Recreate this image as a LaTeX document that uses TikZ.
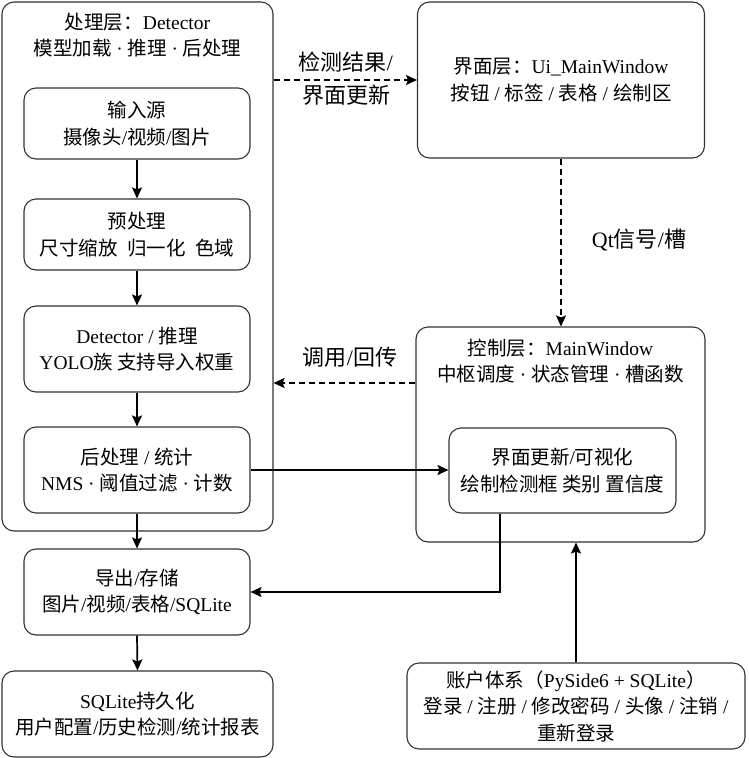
\documentclass[tikz,border=0pt]{standalone}
\usepackage{fontspec}
\setmainfont{Liberation Serif}
\newfontfamily\cjk{Noto Sans CJK SC}
\usetikzlibrary{arrows.meta}
\newcommand\zh[1]{{\cjk #1}}
\tikzset{
  box/.style={draw=black!80, line width=1.1pt, rounded corners=12pt, align=center,
    inner sep=0pt, font=\fontsize{19.5}{26.5}\selectfont, text=black},
  ttl/.style={align=center, inner sep=0pt, font=\fontsize{19.5}{26}\selectfont, text=black},
  lbl/.style={align=center, inner sep=0pt, font=\fontsize{22}{33}\selectfont, text=black},
  arr/.style={line width=1.7pt, draw=black, -{Stealth[length=11pt,width=10pt,inset=2pt]}},
  darr/.style={arr, dash pattern=on 6pt off 4pt}
}
\begin{document}
\begin{tikzpicture}[x=1pt,y=-1pt]
\useasboundingbox (0,0) rectangle (748,758);
% boxes
\node[box, minimum width=271pt, minimum height=529pt] (det) at (137.5,266.5) {};
\node[ttl] (dett) at (137.5,35) {\zh{处理层：}Detector\\\zh{模型加载} · \zh{推理} · \zh{后处理}};
\node[box, minimum width=226pt, minimum height=71pt] (src) at (137,123.5) {\zh{输入源}\\\zh{摄像头}/\zh{视频}/\zh{图片}};
\node[box, minimum width=226pt, minimum height=71pt] (pre) at (137,234.5) {\zh{预处理}\\\zh{尺寸缩放}\hspace{0.5em}\zh{归一化}\hspace{0.5em}\zh{色域}};
\node[box, minimum width=226pt, minimum height=86pt] (inf) at (137,349) {Detector / \zh{推理}\\YOLO\zh{族 支持导入权重}};
\node[box, minimum width=226pt, minimum height=86pt] (post) at (137,470) {\zh{后处理} / \zh{统计}\\NMS · \zh{阈值过滤} · \zh{计数}};
\node[box, minimum width=226pt, minimum height=86pt] (exp) at (137,592) {\zh{导出}/\zh{存储}\\\zh{图片}/\zh{视频}/\zh{表格}/SQLite};
\node[box, minimum width=271pt, minimum height=86pt] (sql) at (137.5,714) {SQLite\zh{持久化}\\\zh{用户配置}/\zh{历史检测}/\zh{统计报表}};
\node[box, minimum width=287pt, minimum height=156pt] (ui) at (561,80) {\zh{界面层：}Ui\_MainWindow\\\zh{按钮} / \zh{标签} / \zh{表格} / \zh{绘制区}};
\node[box, minimum width=289pt, minimum height=215pt] (ctrl) at (560.5,434.5) {};
\node[ttl] (ctrlt) at (560.5,361.5) {\zh{控制层：}MainWindow\\\zh{中枢调度} · \zh{状态管理} · \zh{槽函数}};
\node[box, minimum width=227pt, minimum height=85pt] (vis) at (562.5,470.5) {\zh{界面更新}/\zh{可视化}\\\zh{绘制检测框 类别 置信度}};
\node[box, minimum width=338pt, minimum height=86pt] (acc) at (576,706) {\zh{账户体系（}PySide6 + SQLite\zh{）}\\\zh{登录} / \zh{注册} / \zh{修改密码} / \zh{头像} / \zh{注销} /\\\zh{重新登录}};
% labels
\node[lbl] (l1) at (346,78.5) {\zh{检测结果}/\\\zh{界面更新}};
\node[lbl] (l2) at (639,240) {Qt\zh{信号}/\zh{槽}};
\node[lbl] (l3) at (350,357) {\zh{调用}/\zh{回传}};
% helper coordinates
\coordinate (cy) at (0,383);
\coordinate (vx) at (500,0);
% connectors
\draw[arr] (src.south) -- (pre.north);
\draw[arr] (pre.south) -- (inf.north);
\draw[arr] (inf.south) -- (post.north);
\draw[arr] (post.south) -- (exp.north);
\draw[arr] (exp.south) -- (sql.north);
\draw[darr] (det.north east |- ui.west) -- (ui.west);
\draw[darr] (ui.south) -- (ui.south |- ctrl.north);
\draw[darr] (ctrl.west |- cy) -- (det.east |- cy);
\draw[arr] (post.east) -- (post.east -| vis.west);
\draw[arr] (vis.south -| vx) |- (exp.east);
\draw[arr] (acc.north) -- (acc.north |- ctrl.south);
\end{tikzpicture}
\end{document}
